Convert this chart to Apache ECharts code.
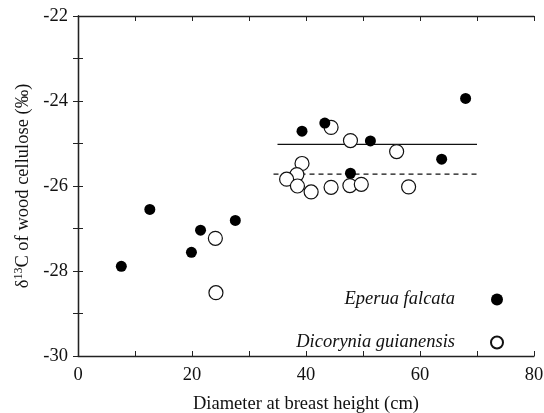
<!DOCTYPE html>
<html>
<head>
<meta charset="utf-8">
<script src="https://cdn.jsdelivr.net/npm/echarts@6/dist/echarts.min.js"></script>
<style>html,body{margin:0;padding:0;background:#fff}#c{width:544px;height:413px}</style>
</head>
<body>
<div id="c"></div>
<script>
// Eperua falcata (filled)
const eperua = [
  [7.6, -27.89], [12.6, -26.55], [19.9, -27.56], [21.5, -27.04], [27.6, -26.81],
  [39.3, -24.71], [43.3, -24.52], [51.3, -24.94], [47.8, -25.70], [63.8, -25.37], [68.0, -23.94]
];
// Dicorynia guianensis (open)
const dicorynia = [
  [24.1, -27.23], [24.2, -28.51], [44.4, -24.62], [47.8, -24.93], [55.9, -25.19],
  [39.3, -25.47], [38.4, -25.73], [36.6, -25.84], [38.5, -26.00], [40.9, -26.14],
  [44.4, -26.03], [47.7, -25.99], [49.7, -25.96], [58.0, -26.02]
];
// mean lines
const eperuaMean = [[35, -25.02], [70, -25.02]];
const dicoryniaMean = [[34.3, -25.72], [70, -25.72]];

const font = 'Liberation Serif';
const fs = 18.5;
const axisCommon = {
  axisLine: { lineStyle: { color: '#222', width: 1.3 } },
  axisTick: { inside: true, length: 5, lineStyle: { color: '#222', width: 1 } },
  minorTick: { show: true, splitNumber: 2, length: 5, lineStyle: { color: '#222', width: 1 } },
  splitLine: { show: false },
  minorSplitLine: { show: false }
};

const chart = echarts.init(document.getElementById('c'), null, { renderer: 'canvas' });
chart.setOption({
  animation: false,
  backgroundColor: '#fff',
  textStyle: { fontFamily: font },
  grid: { left: 78, right: 10, top: 16, bottom: 57, containLabel: false, outerBoundsMode: 'none' },
  xAxis: [
    Object.assign({}, axisCommon, {
      type: 'value', min: 0, max: 80, interval: 20, position: 'bottom',
      name: 'Diameter at breast height (cm)', nameLocation: 'middle', nameGap: 39,
      nameTextStyle: { fontFamily: font, fontSize: fs, color: '#111' },
      axisLabel: { fontFamily: font, fontSize: fs, color: '#111', margin: 10 }
    }),
    Object.assign({}, axisCommon, {
      type: 'value', min: 0, max: 80, interval: 20, position: 'top',
      axisLabel: { show: false }
    })
  ],
  yAxis: [
    Object.assign({}, axisCommon, {
      type: 'value', min: -30, max: -22, interval: 2, position: 'left',
      name: '{a|δ}{s|13}{a|C of wood cellulose (‰)}', nameLocation: 'middle', nameGap: 45,
      nameRotate: 90,
      nameTextStyle: {
        fontFamily: font, fontSize: fs, color: '#111',
        rich: {
          a: { fontFamily: font, fontSize: fs, color: '#111' },
          s: { fontFamily: font, fontSize: 12, color: '#111', verticalAlign: 'top', padding: [0, 0, 8, 0] }
        }
      },
      axisLabel: { fontFamily: font, fontSize: fs, color: '#111', margin: 10 }
    }),
    Object.assign({}, axisCommon, {
      type: 'value', min: -30, max: -22, interval: 2, position: 'right',
      axisLabel: { show: false }
    })
  ],
  legend: {
    orient: 'vertical', right: 35, top: 285, align: 'right',
    itemWidth: 12, itemHeight: 12, itemGap: 24,
    data: ['Eperua falcata', 'Dicorynia guianensis'],
    textStyle: { fontFamily: font, fontStyle: 'italic', fontSize: fs, color: '#111', padding: [0, 31, 0, 0] }
  },
  series: [
    {
      name: 'Eperua mean', type: 'line', data: eperuaMean, symbol: 'none',
      lineStyle: { color: '#111', width: 1.4, type: 'solid' }, z: 1
    },
    {
      name: 'Dicorynia mean', type: 'line', data: dicoryniaMean, symbol: 'none',
      lineStyle: { color: '#111', width: 1.4, type: [5, 4] }, z: 1
    },
    {
      name: 'Dicorynia guianensis', type: 'scatter', data: dicorynia, symbol: 'circle', symbolSize: 14,
      itemStyle: { color: '#fff', borderColor: '#111', borderWidth: 1.2, opacity: 1 }, z: 3
    },
    {
      name: 'Eperua falcata', type: 'scatter', data: eperua, symbol: 'circle', symbolSize: 11,
      itemStyle: { color: '#000', borderColor: '#000', borderWidth: 0, opacity: 1 }, z: 4
    }
  ]
});
</script>
</body>
</html>
